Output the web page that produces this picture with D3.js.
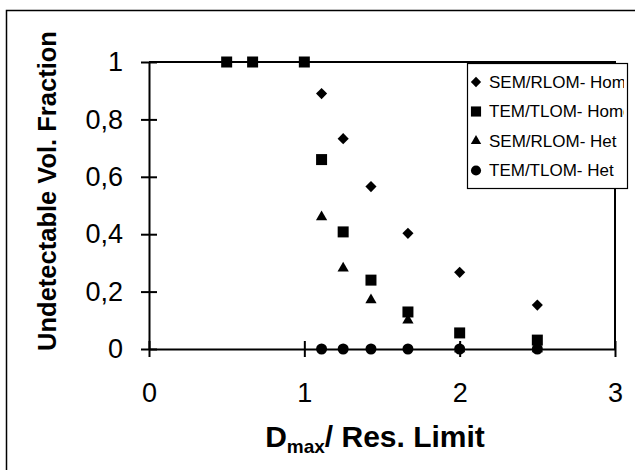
<!DOCTYPE html>
<html lang="en">
<head>
    <meta charset="UTF-8">
    <title>Undetectable Vol. Fraction</title>
    <script src="https://d3js.org/d3.v7.min.js"></script>
    <style type="text/css">
        body { margin: 0; background: #fff; }
        svg { font-family: Arial, "Liberation Sans", sans-serif; }
        .axis path, .axis line { stroke: #000; stroke-width: 2px; }
        .axis text { font-size: 27px; fill: #000; }
        .frame { fill: none; stroke: #000; stroke-width: 2px; }
        .legend text { font-size: 17px; fill: #000; }
        .title { font-weight: bold; fill: #000; }
    </style>
</head>
<body>
    <script type="text/javascript">
        const width = 635;
        const height = 470;

        // data
        const xValues = [0.5, 0.667, 1, 1.111, 1.25, 1.429, 1.667, 2, 2.5];
        const semHom  = [null, null, null, 0.89, 0.733, 0.566, 0.403, 0.267, 0.153];
        const temHomo = [1, 1, 1, 0.66, 0.408, 0.24, 0.129, 0.056, 0.031];
        const semHet  = [null, null, null, 0.46, 0.281, 0.171, 0.10, 0, 0];
        const temHet  = [null, null, null, 0, 0, 0, 0, 0, 0];
        const seriesNames = ["SEM/RLOM- Hom", "TEM/TLOM- Homo", "SEM/RLOM- Het", "TEM/TLOM- Het"];
        const xTicks = [0, 1, 2, 3];
        const yTicks = [0, 0.2, 0.4, 0.6, 0.8, 1];

        const series = [
            { name: seriesNames[0], values: semHom,  shape: "diamond" },
            { name: seriesNames[1], values: temHomo, shape: "square" },
            { name: seriesNames[2], values: semHet,  shape: "triangle" },
            { name: seriesNames[3], values: temHet,  shape: "circle" }
        ];

        const plot = { left: 149, right: 615, top: 62, bottom: 349 };

        const svg = d3.select("body")
            .append("svg")
            .attr("width", width)
            .attr("height", height);

        // outer frame of the scanned figure
        svg.append("rect")
            .attr("x", 6.5).attr("y", 10.5)
            .attr("width", 700).attr("height", 500)
            .attr("fill", "none")
            .attr("stroke", "#000")
            .attr("stroke-width", 1.5);

        const xScale = d3.scaleLinear().domain([0, 3]).range([plot.left, plot.right]);
        const yScale = d3.scaleLinear().domain([0, 1]).range([plot.bottom, plot.top]);

        const comma = d3.formatLocale({ decimal: ",", thousands: ".", grouping: [3], currency: ["", ""] });
        const fmt = comma.format("~g");

        // top and right border of the plot area
        svg.append("path")
            .attr("class", "frame")
            .attr("d", `M${plot.left},${plot.top}H${plot.right}V${plot.bottom}`);

        const yAxis = svg.append("g")
            .attr("class", "axis")
            .attr("transform", `translate(${plot.left},0)`)
            .call(d3.axisLeft(yScale).tickValues(yTicks).tickFormat(fmt)
                .tickSizeInner(8).tickSizeOuter(0).tickPadding(18));
        yAxis.selectAll(".tick").append("line").attr("x2", 8).attr("stroke", "#000");

        const xAxis = svg.append("g")
            .attr("class", "axis")
            .attr("transform", `translate(0,${plot.bottom})`)
            .call(d3.axisBottom(xScale).tickValues(xTicks).tickFormat(fmt)
                .tickSizeInner(8).tickSizeOuter(0).tickPadding(26));
        xAxis.selectAll(".tick").append("line").attr("y2", -8).attr("stroke", "#000");

        const symbols = {
            diamond:  { type: d3.symbolSquare,   size: 62, rotate: 45 },
            square:   { type: d3.symbolSquare,   size: 121, rotate: 0 },
            triangle: { type: d3.symbolTriangle, size: 55, rotate: 0 },
            circle:   { type: d3.symbolCircle,   size: 95, rotate: 0 }
        };

        series.forEach(s => {
            const sym = symbols[s.shape];
            const pts = xValues.map((x, i) => ({ x: x, y: s.values[i] })).filter(d => d.y !== null);
            svg.append("g").selectAll("path")
                .data(pts)
                .join("path")
                .attr("d", d3.symbol().type(sym.type).size(sym.size))
                .attr("transform", d => `translate(${xScale(d.x)},${yScale(d.y)}) rotate(${sym.rotate})`)
                .attr("fill", "#000");
        });

        // legend
        const legend = svg.append("g").attr("class", "legend");
        const lx = 467, ly = 63, lw = 160, lh = 125;
        svg.append("clipPath").attr("id", "legclip")
            .append("rect").attr("x", lx).attr("y", ly).attr("width", lw - 3).attr("height", lh);
        legend.append("rect")
            .attr("x", lx + 0.5).attr("y", ly + 0.5)
            .attr("width", lw).attr("height", lh)
            .attr("fill", "#fff")
            .attr("stroke", "#000")
            .attr("stroke-width", 1.2);
        const rows = legend.append("g").attr("clip-path", "url(#legclip)");
        series.forEach((s, i) => {
            const sym = symbols[s.shape];
            const y = ly + 19 + i * 29.5;
            rows.append("path")
                .attr("d", d3.symbol().type(sym.type).size(sym.size * 0.85))
                .attr("transform", `translate(${lx + 9},${y}) rotate(${sym.rotate})`)
                .attr("fill", "#000");
            rows.append("text")
                .attr("x", lx + 22)
                .attr("y", y)
                .attr("dy", "0.35em")
                .text(s.name);
        });

        // axis titles
        svg.append("text")
            .attr("class", "title")
            .attr("transform", `translate(56,191) rotate(-90)`)
            .attr("text-anchor", "middle")
            .style("font-size", "25.5px")
            .text("Undetectable Vol. Fraction");

        const xt = svg.append("text")
            .attr("class", "title")
            .attr("x", 375)
            .attr("y", 447)
            .attr("text-anchor", "middle")
            .style("font-size", "30px");
        xt.append("tspan").text("D");
        xt.append("tspan").attr("dy", 6).style("font-size", "19px").text("max");
        xt.append("tspan").attr("dy", -6).text("/ Res. Limit");
    </script>
</body>
</html>
